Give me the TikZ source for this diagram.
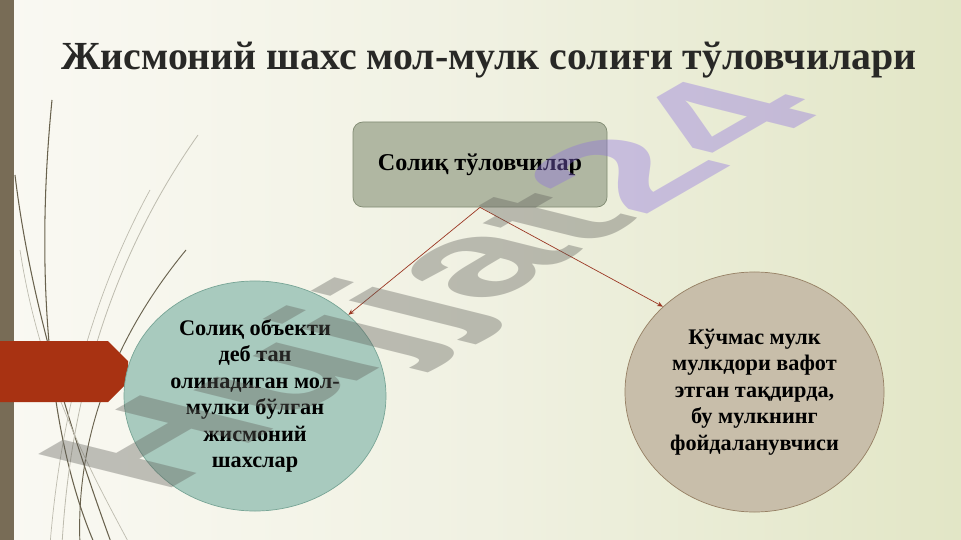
\documentclass[tikz,border=0pt]{standalone}
\usepackage{fontspec}
\setmainfont{Liberation Serif}
\newfontfamily\wmfont{Liberation Sans}
\usetikzlibrary{shapes.geometric,arrows.meta}
\definecolor{bgL}{RGB}{250,249,243}
\definecolor{bgM}{RGB}{240,241,226}
\definecolor{bgR}{RGB}{226,230,198}
\definecolor{barC}{RGB}{120,108,86}
\definecolor{redC}{RGB}{168,50,18}
\definecolor{boxF}{RGB}{176,183,162}
\definecolor{boxD}{RGB}{128,138,114}
\definecolor{tealF}{RGB}{168,202,190}
\definecolor{tealD}{RGB}{120,165,150}
\definecolor{tanF}{RGB}{200,190,170}
\definecolor{tanD}{RGB}{150,128,100}
\definecolor{arrC}{RGB}{155,55,35}
\definecolor{wispD}{RGB}{105,98,78}
\definecolor{wispL}{RGB}{190,188,175}
\definecolor{wmGray}{RGB}{95,95,90}
\definecolor{wmPurple}{RGB}{140,110,225}
\definecolor{titleC}{RGB}{40,40,38}
\tikzset{
  payerbox/.style={draw=boxD, fill=boxF, line width=0.6pt, rounded corners=0.3cm,
    minimum width=7.62cm, minimum height=2.55cm, inner sep=0pt,
    font=\bfseries\fontsize{20.6}{24}\selectfont, text=black},
  ellbox/.style={ellipse, line width=0.6pt, inner sep=0pt, align=center,
    font=\bfseries\fontsize{19}{22.6}\selectfont, text=black},
  link/.style={draw=arrC, line width=0.6pt, -{Stealth[length=5pt,width=4pt]}},
  wispdark/.style={draw=wispD, line width=0.9pt},
  wisplight/.style={draw=wispL, line width=0.7pt},
}
\begin{document}
\begin{tikzpicture}[x=0.03cm, y=-0.03cm]
\useasboundingbox (0,0) rectangle (961,540);
% background
\shade[left color=bgL, right color=bgR, middle color=bgM] (0,0) rectangle (961,540);
% left bar
\fill[barC] (0,0) rectangle (14,540);
% wisps
\draw[wispdark] (52,100) .. controls (36,260) and (45,430) .. (95,545);
\draw[wispdark] (15,175) .. controls (30,300) and (70,430) .. (112,545);
\draw[wispdark, line width=0.8pt] (186,250) .. controls (120,330) and (75,430) .. (80,545);
\draw[wisplight] (198,135) .. controls (110,260) and (70,400) .. (62,545);
\draw[wisplight, line width=0.6pt] (20,250) .. controls (40,380) and (90,470) .. (130,545);
\draw[wisplight, line width=0.6pt] (150,190) .. controls (90,300) and (60,420) .. (50,545);
% red arrow shape
\fill[redC] (0,341) -- (108,341) -- (128,361) -- (128,382) -- (108,402) -- (0,402) -- cycle;
% title
\node[anchor=base, font=\bfseries\fontsize{34}{40}\selectfont, text=titleC, inner sep=0pt] (T) at (489,70)
  {Жисмоний шахс мол-мулк солиғи тўловчилари};
% nodes
\node[payerbox] (B) at (480,164.5) {Солиқ тўловчилар};
\node[ellbox, draw=tealD, fill=tealF, minimum width=7.86cm, minimum height=6.9cm] (L) at (255,396)
  {Солиқ объекти\\деб тан\\олинадиган мол-\\мулки бўлган\\жисмоний\\шахслар};
\node[ellbox, draw=tanD, fill=tanF, minimum width=7.77cm, minimum height=7.2cm] (R) at (754.5,392)
  {Кўчмас мулк\\мулкдори вафот\\этган тақдирда,\\бу мулкнинг\\фойдаланувчиси};
% connectors
\draw[link] (B.south) -- (L.41);
\draw[link] (B.south) -- (R.137);
% watermark
\begin{scope}[shift={(160,495)}]
\node[cm={0.866,0.5,-0.970,0.242,(0,0)}, transform shape, anchor=base west, inner sep=0pt,
  font=\wmfont\bfseries\fontsize{170.7}{171}\selectfont, text opacity=0.38] (W) at (0,0)
  {\textcolor{wmGray}{Hujjat}\textcolor{wmPurple}{24}};
\end{scope}
\end{tikzpicture}
\end{document}
